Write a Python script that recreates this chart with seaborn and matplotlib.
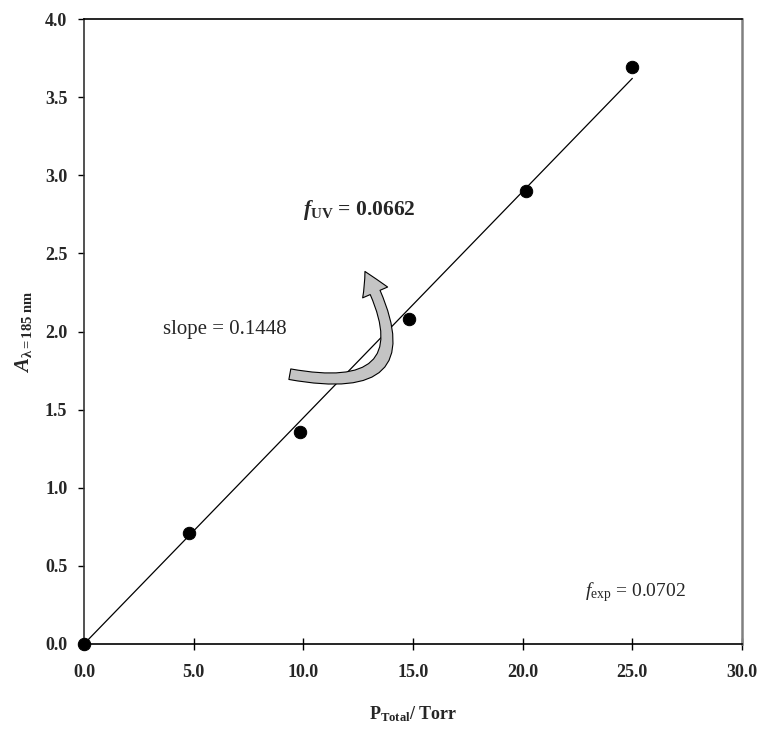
import matplotlib
matplotlib.use("Agg")
import matplotlib.pyplot as plt
import seaborn as sns
import pandas as pd
import numpy as np
from matplotlib.patches import FancyArrowPatch
from matplotlib.ticker import FormatStrFormatter

# Data
pressure = [0.0, 4.8, 9.85, 14.83, 20.14, 25.0]
absorbance = [0.0, 0.71, 1.36, 2.08, 2.90, 3.69]
slope = 0.1448
fit_x = [0.0, 25.0]
x_ticks = [0, 5, 10, 15, 20, 25, 30]
y_ticks = [0, 0.5, 1.0, 1.5, 2.0, 2.5, 3.0, 3.5, 4.0]

sns.set_theme(style="white")
plt.rcParams['font.family'] = ['Liberation Serif', 'DejaVu Serif']
plt.rcParams['mathtext.fontset'] = 'custom'
plt.rcParams['mathtext.rm'] = 'Liberation Serif'
plt.rcParams['mathtext.it'] = 'Liberation Serif:italic'
plt.rcParams['mathtext.bf'] = 'Liberation Serif:bold'
plt.rcParams['mathtext.bfit'] = 'Liberation Serif:italic:bold'

df = pd.DataFrame({"P": pressure, "A": absorbance})
fit = pd.DataFrame({"P": fit_x, "A": [slope * v for v in fit_x]})

fig = plt.figure(figsize=(7.63, 7.32), dpi=100)
ax = fig.add_axes([84 / 763, 1 - 644 / 732, (742 - 84) / 763, (644 - 19) / 732])

sns.lineplot(data=fit, x="P", y="A", ax=ax, color="black", linewidth=0.9)
sns.scatterplot(data=df, x="P", y="A", ax=ax, color="black", s=80,
                edgecolor="black", zorder=5, clip_on=False)

ax.set_xlim(0, 30)
ax.set_ylim(0, 4.0)
ax.set_xticks(x_ticks)
ax.set_yticks(y_ticks)
ax.xaxis.set_major_formatter(FormatStrFormatter('%.1f'))
ax.yaxis.set_major_formatter(FormatStrFormatter('%.1f'))
for lbl in ax.get_xticklabels() + ax.get_yticklabels():
    lbl.set_fontweight('bold')
    lbl.set_fontsize(13)

ax.tick_params(axis='x', direction='inout', length=9, width=1, color='black', pad=10)
ax.tick_params(axis='y', direction='out', length=4, width=1, color='black', pad=8, left=True)
ax.tick_params(axis='x', bottom=True)

for side in ['left', 'bottom', 'top']:
    ax.spines[side].set_color('black')
    ax.spines[side].set_linewidth(1.2)
ax.spines['left'].set_color('#333333')
ax.spines['right'].set_color('#808080')
ax.spines['right'].set_linewidth(1.8)

ax.set_xlabel(r"P$_{\mathbf{Total}}$/ Torr", fontsize=13, fontweight='bold', labelpad=17)
ax.set_ylabel(r"$\mathbfit{A}_{\mathbf{\lambda=185\ nm}}$", fontsize=15, fontweight='bold', labelpad=8)

ax.text(10.0, 2.78, r"$\mathbfit{f}_{\mathbf{UV}}$ = 0.0662", fontsize=15.5,
        fontweight='bold', va='center', ha='left')
ax.text(3.6, 2.01, "slope = 0.1448", fontsize=15, va='center', ha='left')
ax.text(22.85, 0.33, r"$\mathit{f}_{\mathrm{exp}}$ = 0.0702", fontsize=14,
        va='center', ha='left')

arrow = FancyArrowPatch((9.26, 1.73), (12.75, 2.40),
                        connectionstyle="arc3,rad=1.05",
                        arrowstyle="simple,tail_width=0.55,head_width=1.4,head_length=1.2",
                        mutation_scale=14, facecolor='#c4c4c4', edgecolor='black',
                        linewidth=0.8, zorder=4)
ax.add_patch(arrow)

fig.savefig("out.png", dpi=100)
